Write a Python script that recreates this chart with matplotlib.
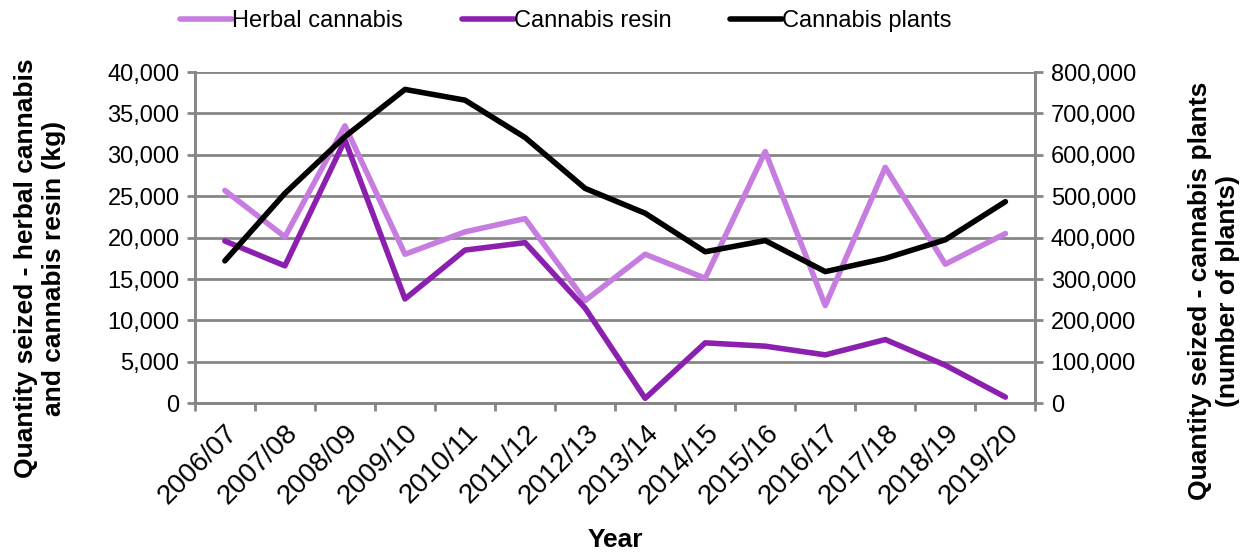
import matplotlib
matplotlib.use("Agg")
import matplotlib.pyplot as plt
from matplotlib.ticker import FuncFormatter, FixedLocator

plt.rcParams['font.family'] = ['Liberation Sans', 'DejaVu Sans']

# data
years = ['2006/07', '2007/08', '2008/09', '2009/10', '2010/11', '2011/12', '2012/13',
         '2013/14', '2014/15', '2015/16', '2016/17', '2017/18', '2018/19', '2019/20']
herbal_kg = [25700, 20100, 33500, 18000, 20700, 22300, 12400,
             18000, 15100, 30400, 11800, 28500, 16800, 20500]
resin_kg = [19600, 16600, 31800, 12600, 18500, 19400, 11500,
            600, 7300, 6900, 5850, 7700, 4600, 750]
plants_n = [344000, 507000, 644000, 758000, 732000, 642000, 519000,
            459000, 366000, 393000, 318000, 350000, 395000, 487000]

grid_col = '#868686'
herbal_col = '#C77CE0'
resin_col = '#8B20AE'

fig = plt.figure(figsize=(12.49, 5.54), dpi=100)
ax = fig.add_axes([0.156, 0.272, 0.673, 0.598])
ax2 = ax.twinx()

x = list(range(len(years)))
l1, = ax.plot(x, herbal_kg, color=herbal_col, lw=4, label='Herbal cannabis', solid_capstyle='round')
l2, = ax.plot(x, resin_kg, color=resin_col, lw=4, label='Cannabis resin', solid_capstyle='round')
l3, = ax2.plot(x, plants_n, color='black', lw=4, label='Cannabis plants', solid_capstyle='round')

ax.set_xlim(-0.5, len(years) - 0.5)
ax.set_ylim(0, 40000)
ax2.set_ylim(0, 800000)
ax.set_yticks(range(0, 40001, 5000))
ax2.set_yticks(range(0, 800001, 100000))
fmt = FuncFormatter(lambda v, p: f'{int(v):,}')
ax.yaxis.set_major_formatter(fmt)
ax2.yaxis.set_major_formatter(fmt)

ax.set_xticks(x)
ax.set_xticklabels(years, rotation=45, ha='right', rotation_mode='anchor')
ax.xaxis.set_minor_locator(FixedLocator([i - 0.5 for i in range(len(years) + 1)]))
ax.tick_params(axis='x', which='major', length=0, labelsize=20, pad=12)
ax.tick_params(axis='x', which='minor', length=6, width=2, color=grid_col, direction='out')
ax.tick_params(axis='y', length=6, width=2, color=grid_col, labelsize=17, pad=5)
ax2.tick_params(axis='y', length=6, width=2, color=grid_col, labelsize=17, pad=5)

ax.grid(axis='y', color=grid_col, lw=2)
ax.set_axisbelow(True)
for a in (ax, ax2):
    for s in ('left', 'right', 'bottom'):
        a.spines[s].set_color(grid_col)
        a.spines[s].set_linewidth(2)
    a.spines['top'].set_visible(False)

fig.text(615 / 1249, 1 - 540 / 554, 'Year', fontsize=19, fontweight='bold',
         ha='center', va='center')
fig.text(40 / 1249, 1 - 268 / 554, 'Quantity seized - herbal cannabis\nand cannabis resin (kg)',
         fontsize=19, fontweight='bold', rotation=90, ha='center', va='center',
         multialignment='center')
fig.text(1214 / 1249, 1 - 291 / 554, 'Quantity seized - cannabis plants\n(number of plants)',
         fontsize=19, fontweight='bold', rotation=90, ha='center', va='center',
         multialignment='center')

fig.legend(handles=[l1, l2, l3], loc='center', bbox_to_anchor=(0.453, 0.962), ncol=3,
           frameon=False, fontsize=17, handlelength=2.2, handletextpad=0.0,
           columnspacing=2.5)

fig.savefig('out.png', dpi=100)
